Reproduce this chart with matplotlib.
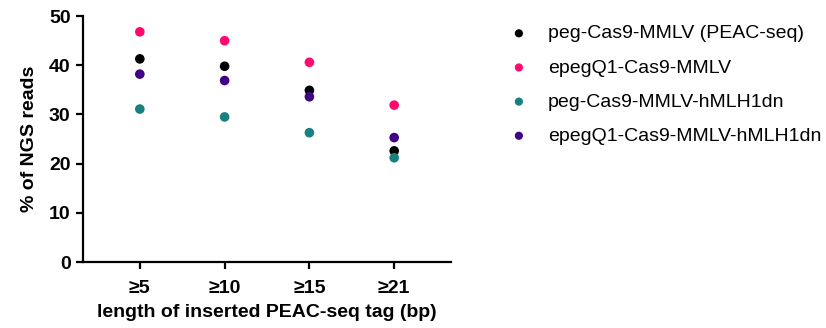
"""
Percentage of NGS reads carrying an inserted PEAC-seq tag of at least a given
length, for four editor constructs.
"""

import matplotlib
matplotlib.use("Agg")
import matplotlib.pyplot as plt
import numpy as np

categories = ["\u22655", "\u226510", "\u226515", "\u226521"]

series_names = [
    "peg-Cas9-MMLV (PEAC-seq)",
    "epegQ1-Cas9-MMLV",
    "peg-Cas9-MMLV-hMLH1dn",
    "epegQ1-Cas9-MMLV-hMLH1dn",
]
peg_mmlv = [41.3, 39.8, 34.9, 22.6]
epeg_mmlv = [46.8, 45.0, 40.6, 31.9]
peg_mmlv_mlh = [31.1, 29.5, 26.3, 21.2]
epeg_mmlv_mlh = [38.2, 36.9, 33.6, 25.3]

colors = ["#000000", "#FF0A6C", "#178080", "#3F0585"]

plt.rcParams["font.family"] = ["Liberation Sans", "DejaVu Sans"]

fig = plt.figure(figsize=(8.26, 3.28), dpi=100)
ax = fig.add_axes([0.1005, 0.201, 0.4455, 0.75])

x = np.arange(len(categories))
for name, vals, c in zip(series_names,
                         [peg_mmlv, epeg_mmlv, peg_mmlv_mlh, epeg_mmlv_mlh],
                         colors):
    ax.scatter(x, vals, s=48, color=c, edgecolors="none", label=name,
               zorder=3, clip_on=False)

ax.set_xlim(-0.67, 3.67)
ax.set_ylim(0, 50)
ax.set_yticks([0, 10, 20, 30, 40, 50])
ax.set_xticks(x)
ax.set_xticklabels(categories)

for side in ("top", "right"):
    ax.spines[side].set_visible(False)
for side in ("left", "bottom"):
    ax.spines[side].set_linewidth(1.6)
ax.tick_params(axis="both", width=1.6, length=5, labelsize=14, pad=4)
ax.tick_params(axis="x", pad=8)
for lbl in ax.get_xticklabels() + ax.get_yticklabels():
    lbl.set_fontweight("bold")

ax.set_ylabel("% of NGS reads", fontsize=14, fontweight="bold", labelpad=8)
ax.set_xlabel("length of inserted PEAC-seq tag (bp)", fontsize=14,
              fontweight="bold", labelpad=5)

fig.legend(loc="upper left", bbox_to_anchor=(0.607, 0.948), frameon=False,
           fontsize=14, handlelength=1.0, handletextpad=1.0,
           labelspacing=0.85, markerscale=0.85, borderaxespad=0)

fig.savefig("out.png", dpi=100)
